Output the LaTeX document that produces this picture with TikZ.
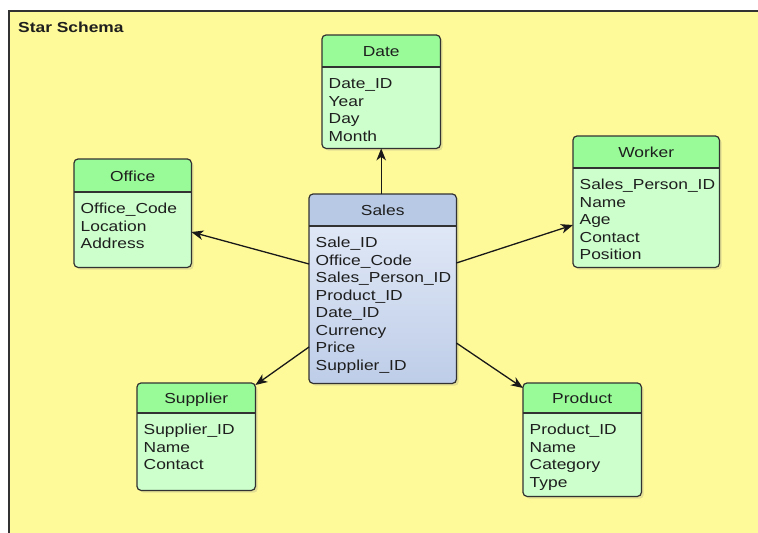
\documentclass[tikz,border=0pt]{standalone}
\usepackage{fontspec}
\setmainfont{Liberation Sans}[FakeStretch=1.2]
\usetikzlibrary{arrows.meta,shadows,calc}
\definecolor{bg}{RGB}{255,250,153}
\definecolor{hdrg}{RGB}{152,251,152}
\definecolor{bodyg}{RGB}{204,255,204}
\definecolor{hdrb}{RGB}{184,201,229}
\definecolor{bodyb1}{RGB}{230,237,249}
\definecolor{bodyb2}{RGB}{190,205,232}
\definecolor{edgec}{RGB}{50,50,50}
\definecolor{txt}{RGB}{30,30,30}
\tikzset{
  tbl/.style={rectangle, rounded corners=4pt, inner sep=0pt, anchor=north west,
    drop shadow={opacity=0.22, shadow xshift=2.5pt, shadow yshift=-2.5pt}},
  gbody/.style={fill=bodyg},
  bbody/.style={top color=bodyb1, bottom color=bodyb2},
  ghdr/.style={fill=hdrg},
  bhdr/.style={fill=hdrb},
  edgeline/.style={draw=edgec, line width=1.2pt},
  hdrtext/.style={anchor=base, inner sep=0pt, text=txt, font=\fontsize{14.5}{17.5}\selectfont},
  bodytext/.style={anchor=north west, inner sep=0pt, align=left, text=txt, font=\fontsize{14.5}{17.5}\selectfont},
  conn/.style={draw=black!90, line width=1.3pt, -{Stealth[length=12pt,width=9.5pt,inset=3.5pt]}}
}
\newcommand\erbox[9]{%
  \node[tbl, #9body, minimum width=#4pt, minimum height=#5pt] (#1) at (#2,#3) {};
  \begin{scope}
    \clip (#2,#3) rectangle ++(#4,#6);
    \fill[#9hdr, rounded corners=4pt] (#2,#3) rectangle ++(#4,#5);
  \end{scope}
  \draw[edgeline] ($(#1.north west)+(0,#6)$) -- ++(#4,0);
  \draw[edgeline, rounded corners=4pt] (#1.north west) rectangle (#1.south east);
  \node[hdrtext] (#1-title) at ($(#1.north)+(0,#6/2+5.5)$) {#7};
  \node[bodytext] (#1-fields) at ($(#1.north west)+(6.5,#6+21.5-12)$) {\rule{0pt}{12pt}#8};
}
\begin{document}
\begin{tikzpicture}[x=1pt, y=-1pt]
  \clip (0,0) rectangle (758,533);
  \fill[white] (0,0) rectangle (758,533);
  \fill[bg] (9,11) rectangle (770,545);
  \draw[draw=edgec, line width=1.4pt] (9,545) -- (9,11) -- (770,11);
  \node[anchor=base west, inner sep=0pt, text=txt, font=\bfseries\fontsize{14.5}{17.5}\selectfont] (title) at (18,32.5) {Star Schema};

  \erbox{date}{322}{35}{118}{113}{32}{Date}{Date\_ID\\Year\\Day\\Month}{g}
  \erbox{office}{74}{159}{117}{108}{33}{Office}{Office\_Code\\Location\\Address}{g}
  \erbox{worker}{573}{136}{146}{131}{32}{Worker}{Sales\_Person\_ID\\Name\\Age\\Contact\\Position}{g}
  \erbox{supplier}{137}{383}{118}{107}{30}{Supplier}{Supplier\_ID\\Name\\Contact}{g}
  \erbox{product}{523}{383}{118}{113}{30}{Product}{Product\_ID\\Name\\Category\\Type}{g}
  \erbox{sales}{309}{194}{147}{189}{32}{Sales}{Sale\_ID\\Office\_Code\\Sales\_Person\_ID\\Product\_ID\\Date\_ID\\Currency\\Price\\Supplier\_ID}{b}

  \draw[conn] (date.south |- sales.north) -- (date.south);
  \draw[conn] ($(sales.north west)+(0,70)$) -- ($(office.north east)+(0,73)$);
  \draw[conn] ($(sales.north east)+(0,69)$) -- ($(worker.north west)+(0,89)$);
  \draw[conn] ($(sales.north west)+(0,153)$) -- ($(supplier.north east)+(0,2)$);
  \draw[conn] ($(sales.north east)+(0,149)$) -- ($(product.north west)+(0,5)$);
\end{tikzpicture}
\end{document}
